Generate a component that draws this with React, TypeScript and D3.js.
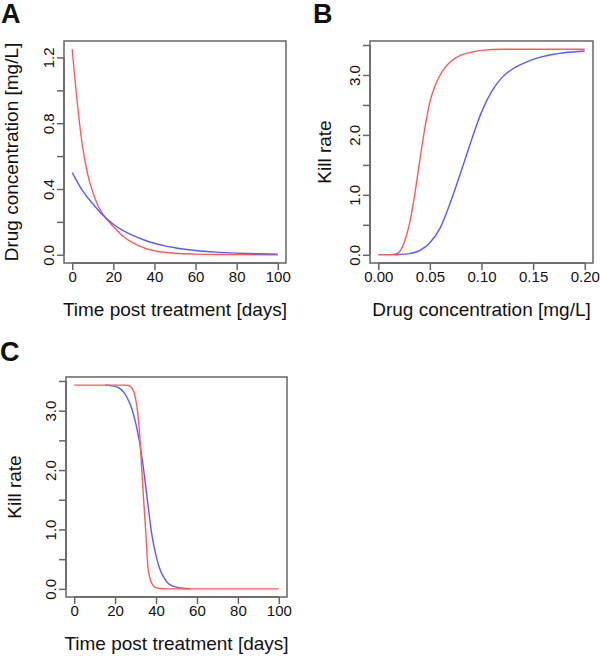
import React, { useEffect, useRef } from "react";
import * as d3 from "d3";

// Panel A: drug concentration over time
const timeA = [0, 2.5, 5, 7.5, 10, 12.5, 15, 20, 25, 30, 35, 40, 45, 50, 60, 70, 80, 100];
const concRed = [1.25, 0.92, 0.66, 0.49, 0.38, 0.3, 0.245, 0.172, 0.11, 0.07, 0.042, 0.024, 0.015, 0.009, 0.004, 0.002, 0.001, 0.0];
const timeABlue = [0, 5, 10, 15, 20, 25, 30, 35, 40, 45, 50, 55, 60, 70, 80, 90, 100];
const concBlue = [0.5, 0.39, 0.31, 0.24, 0.186, 0.145, 0.115, 0.09, 0.07, 0.054, 0.043, 0.034, 0.026, 0.016, 0.01, 0.006, 0.004];

// Panel B: kill rate vs concentration
const concB_red = [0, 0.01, 0.015, 0.02, 0.025, 0.03, 0.035, 0.04, 0.045, 0.05, 0.055, 0.06, 0.065, 0.07, 0.08, 0.09, 0.1, 0.12, 0.15, 0.2];
const killB_red = [0, 0, 0.005, 0.04, 0.2, 0.5, 0.97, 1.55, 2.1, 2.55, 2.82, 3.0, 3.13, 3.22, 3.33, 3.38, 3.41, 3.43, 3.43, 3.43];
const concB_blue = [0.015, 0.02, 0.03, 0.04, 0.05, 0.06, 0.07, 0.08, 0.09, 0.1, 0.11, 0.12, 0.13, 0.14, 0.15, 0.16, 0.18, 0.2];
const killB_blue = [0, 0.005, 0.02, 0.07, 0.2, 0.45, 0.88, 1.38, 1.9, 2.38, 2.73, 2.96, 3.1, 3.19, 3.26, 3.31, 3.37, 3.4];

// Panel C: kill rate over time
const timeC_red = [0, 20, 25, 27, 28, 29, 30, 31, 32, 33, 34, 35, 36, 37, 38, 39, 40, 42, 45, 50, 100];
const killC_red = [3.43, 3.43, 3.43, 3.42, 3.39, 3.33, 3.2, 2.98, 2.59, 2.02, 1.47, 0.95, 0.38, 0.18, 0.09, 0.04, 0.02, 0.005, 0, 0, 0];
const timeC_blue = [15, 18, 20, 22, 24, 26, 28, 30, 32, 34, 36, 38, 40, 42, 44, 46, 48, 50, 53, 57];
const killC_blue = [3.43, 3.42, 3.41, 3.38, 3.32, 3.21, 3.05, 2.8, 2.46, 1.99, 1.43, 0.9, 0.56, 0.32, 0.18, 0.09, 0.05, 0.03, 0.01, 0.0];

const timeTicks = [0, 20, 40, 60, 80, 100];
const concATicks = [0, 0.2, 0.4, 0.6, 0.8, 1.0, 1.2];
const concALabels = ["0.0", "", "0.4", "", "0.8", "", "1.2"];
const concBTicks = [0, 0.05, 0.1, 0.15, 0.2];
const concBLabels = ["0.00", "0.05", "0.10", "0.15", "0.20"];
const killTicks = [0, 0.5, 1, 1.5, 2, 2.5, 3, 3.5];
const killLabels = ["0.0", "", "1.0", "", "2.0", "", "3.0", ""];

const RED = "#ff5a5a";
const BLUE = "#5a5aff";
const AXIS = "#666";
const FONT = "'Liberation Sans', Arial, sans-serif";

export default function App() {
  const ref = useRef<SVGSVGElement>(null);

  useEffect(() => {
    document.body.style.margin = "0";
    const svg = d3.select(ref.current);
    svg.selectAll("*").remove();
    svg.attr("width", 600).attr("height", 659);
    svg.append("rect").attr("width", 600).attr("height", 659).attr("fill", "#fff");

    function panel(opts: any) {
      const { box, xDomain, yDomain, xTicks, xLabels, yTicks, yLabels, series, xTitle, yTitle, letter } = opts;
      const g = svg.append("g");
      const x = d3.scaleLinear().domain(xDomain).range([box.left, box.right]);
      const y = d3.scaleLinear().domain(yDomain).range([box.bottom, box.top]);

      // plot frame
      g.append("rect")
        .attr("x", box.left).attr("y", box.top)
        .attr("width", box.right - box.left).attr("height", box.bottom - box.top)
        .attr("fill", "none").attr("stroke", AXIS).attr("stroke-width", 1.5);

      // x axis
      const xa = g.append("g").attr("transform", `translate(0,${box.bottom})`)
        .call(d3.axisBottom(x).tickValues(xTicks).tickSize(7).tickSizeOuter(0)
          .tickFormat((d, i) => xLabels[i]));
      xa.select(".domain").attr("stroke", AXIS).attr("stroke-width", 1.5)
        .attr("d", `M${x(xTicks[0])},0H${x(xTicks[xTicks.length - 1])}`);
      xa.selectAll(".tick line").attr("stroke", AXIS).attr("stroke-width", 1.5);
      xa.selectAll(".tick text").attr("fill", "#111").attr("font-family", FONT)
        .attr("font-size", 15).attr("y", 19).attr("dy", 0);

      // y axis
      const ya = g.append("g").attr("transform", `translate(${box.left},0)`)
        .call(d3.axisLeft(y).tickValues(yTicks).tickSize(7).tickSizeOuter(0)
          .tickFormat((d, i) => yLabels[i]));
      ya.select(".domain").attr("stroke", AXIS).attr("stroke-width", 1.5)
        .attr("d", `M0,${y(yTicks[0])}V${y(yTicks[yTicks.length - 1])}`);
      ya.selectAll(".tick line").attr("stroke", AXIS).attr("stroke-width", 1.5);
      ya.selectAll(".tick text").attr("fill", "#111").attr("font-family", FONT)
        .attr("font-size", 15).attr("x", null).attr("dy", 0)
        .attr("text-anchor", "middle")
        .attr("transform", "translate(-10,0) rotate(-90)");

      // curves
      const line = d3.line<[number, number]>()
        .x(d => x(d[0])).y(d => y(d[1]))
        .curve(d3.curveMonotoneX);
      series.forEach((s: any) => {
        g.append("path")
          .datum(d3.zip(s.xs, s.ys))
          .attr("d", line as any)
          .attr("fill", "none").attr("stroke", s.color).attr("stroke-width", 1.4);
      });

      // titles
      g.append("text")
        .attr("x", (box.left + box.right) / 2).attr("y", box.bottom + 53)
        .attr("text-anchor", "middle").attr("font-family", FONT).attr("font-size", 19)
        .attr("fill", "#111").text(xTitle);
      g.append("text")
        .attr("transform", `translate(${box.left - opts.yTitleOffset},${(box.top + box.bottom) / 2}) rotate(-90)`)
        .attr("text-anchor", "middle").attr("font-family", FONT).attr("font-size", 19)
        .attr("fill", "#111").text(yTitle);
      g.append("text")
        .attr("x", letter.x).attr("y", letter.y)
        .attr("font-family", FONT).attr("font-size", 27).attr("font-weight", "bold")
        .attr("fill", "#111").text(letter.text);
    }

    panel({
      box: { left: 64, right: 286, top: 41, bottom: 263 },
      xDomain: [-4, 104], yDomain: [-0.05, 1.3],
      xTicks: timeTicks, xLabels: timeTicks.map(String),
      yTicks: concATicks, yLabels: concALabels,
      series: [
        { xs: timeA, ys: concRed, color: RED },
        { xs: timeABlue, ys: concBlue, color: BLUE },
      ],
      xTitle: "Time post treatment [days]",
      yTitle: "Drug concentration [mg/L]", yTitleOffset: 46,
      letter: { x: 1, y: 23, text: "A" },
    });

    panel({
      box: { left: 370, right: 593, top: 41, bottom: 263 },
      xDomain: [-0.008, 0.208], yDomain: [-0.137, 3.567],
      xTicks: concBTicks, xLabels: concBLabels,
      yTicks: killTicks, yLabels: killLabels,
      series: [
        { xs: concB_blue, ys: killB_blue, color: BLUE },
        { xs: concB_red, ys: killB_red, color: RED },
      ],
      xTitle: "Drug concentration [mg/L]",
      yTitle: "Kill rate", yTitleOffset: 39,
      letter: { x: 313, y: 23, text: "B" },
    });

    panel({
      box: { left: 66, right: 287, top: 377, bottom: 597 },
      xDomain: [-4, 104], yDomain: [-0.137, 3.567],
      xTicks: timeTicks, xLabels: timeTicks.map(String),
      yTicks: killTicks, yLabels: killLabels,
      series: [
        { xs: timeC_blue, ys: killC_blue, color: BLUE },
        { xs: timeC_red, ys: killC_red, color: RED },
      ],
      xTitle: "Time post treatment [days]",
      yTitle: "Kill rate", yTitleOffset: 45,
      letter: { x: 0, y: 361, text: "C" },
    });
  }, []);

  return <svg ref={ref} style={{ display: "block" }}></svg>;
}
